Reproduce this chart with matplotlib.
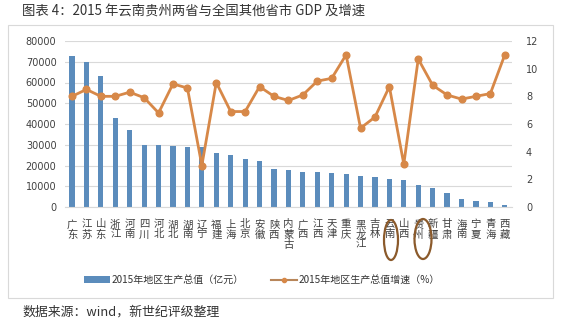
import matplotlib
matplotlib.use("Agg")
import matplotlib.pyplot as plt
from matplotlib.patches import Rectangle, Ellipse
from matplotlib.lines import Line2D
from matplotlib.patches import Patch
import numpy as np

plt.rcParams['font.family'] = ['Noto Sans CJK SC', 'DejaVu Sans']

provinces = ["广东", "江苏", "山东", "浙江", "河南", "四川", "河北", "湖北", "湖南", "辽宁",
             "福建", "上海", "北京", "安徽", "陕西", "内蒙古", "广西", "江西", "天津", "重庆",
             "黑龙江", "吉林", "云南", "山西", "贵州", "新疆", "甘肃", "海南", "宁夏", "青海", "西藏"]
gdp = [72813, 70116, 63002, 42886, 37010, 30103, 29806, 29550, 29047, 28743,
       25980, 24965, 23015, 22006, 18172, 18033, 16803, 16724, 16538, 15720,
       15084, 14274, 13718, 12803, 10503, 9325, 6790, 3703, 2912, 2417, 1026]
growth = [8.0, 8.5, 8.0, 8.0, 8.3, 7.9, 6.8, 8.9, 8.6, 3.0,
          9.0, 6.9, 6.9, 8.7, 8.0, 7.7, 8.1, 9.1, 9.3, 11.0,
          5.7, 6.5, 8.7, 3.1, 10.7, 8.8, 8.1, 7.8, 8.0, 8.2, 11.0]
left_ticks = [0, 10000, 20000, 30000, 40000, 50000, 60000, 70000, 80000]
right_ticks = [0, 2, 4, 6, 8, 10, 12]
bar_label = "2015年地区生产总值（亿元）"
line_label = "2015年地区生产总值增速（%）"
title = "图表 4：2015 年云南贵州两省与全国其他省市 GDP 及增速"
source = "数据来源：wind，新世纪评级整理"

W, H = 561, 322
fig = plt.figure(figsize=(W / 100, H / 100), dpi=100)

# outer frame
fig.patches.append(Rectangle((8 / W, 1 - 298 / H), (553 - 8) / W, (298 - 25) / H,
                             transform=fig.transFigure, fill=False, edgecolor="#d9d9d9", lw=0.8))

ax = fig.add_axes([64.8 / W, 1 - 207 / H, (512 - 64.8) / W, (207 - 41) / H])
x = np.arange(len(provinces))
bar_color = "#5b8cbc"
line_color = "#d78848"
ax.bar(x, gdp, width=0.36, color=bar_color, zorder=2)
ax.set_ylim(0, 80000)
ax.set_yticks(left_ticks)
ax.set_yticklabels([str(v) for v in left_ticks], fontsize=7, color="#404040", family="DejaVu Sans")
ax.set_xlim(-0.5, len(provinces) - 0.5)
ax.set_xticks(x)
ax.set_xticklabels(["\n".join(p) for p in provinces], fontsize=7.5, color="#404040", va="top")
for lab in ax.get_xticklabels():
    lab.set_linespacing(1.0)
ax.tick_params(axis="both", length=0, pad=6)
ax.tick_params(axis="x", pad=9)
ax.grid(axis="y", color="#d9d9d9", lw=0.8, zorder=0)
ax.set_axisbelow(True)
for s in ["top", "right", "left"]:
    ax.spines[s].set_visible(False)
ax.spines["bottom"].set_color("#d9d9d9")

ax2 = ax.twinx()
ax2.plot(x, growth, color=line_color, lw=2.0, marker="o", markersize=4.8,
         markerfacecolor=line_color, markeredgecolor=line_color, zorder=3)
ax2.set_ylim(0, 12)
ax2.set_yticks(right_ticks)
ax2.set_yticklabels([str(v) for v in right_ticks], fontsize=7, color="#404040", family="DejaVu Sans")
ax2.tick_params(axis="y", length=0, pad=10)
for s in ["top", "right", "left", "bottom"]:
    ax2.spines[s].set_visible(False)

handles = [Patch(facecolor=bar_color, edgecolor="none"),
           Line2D([0], [0], color="#b8865a", lw=1.5, marker="o", markersize=3,
                  markerfacecolor=line_color, markeredgecolor=line_color)]
fig.legend(handles, [bar_label, line_label], loc="center", ncol=2,
           bbox_to_anchor=(262 / W, 1 - 280 / H), frameon=False, fontsize=7.2,
           handlelength=2.6, handletextpad=0.1, columnspacing=2.8, labelcolor="#333333",
           handleheight=0.6)

# highlight ellipses
for cx, cy, w, h in [(391, 240, 14, 40), (423, 239, 17, 40)]:
    fig.patches.append(Ellipse((cx / W, 1 - cy / H), w / W, h / H, transform=fig.transFigure,
                               fill=False, edgecolor="#8b5a2b", lw=1.6))

fig.text(22 / W, 1 - 12 / H, title, fontsize=9.6, color="#333333", va="center", ha="left")
fig.text(22 / W, 1 - 312 / H, source, fontsize=9.3, color="#333333", va="center", ha="left")

fig.savefig("out.png", dpi=100)
